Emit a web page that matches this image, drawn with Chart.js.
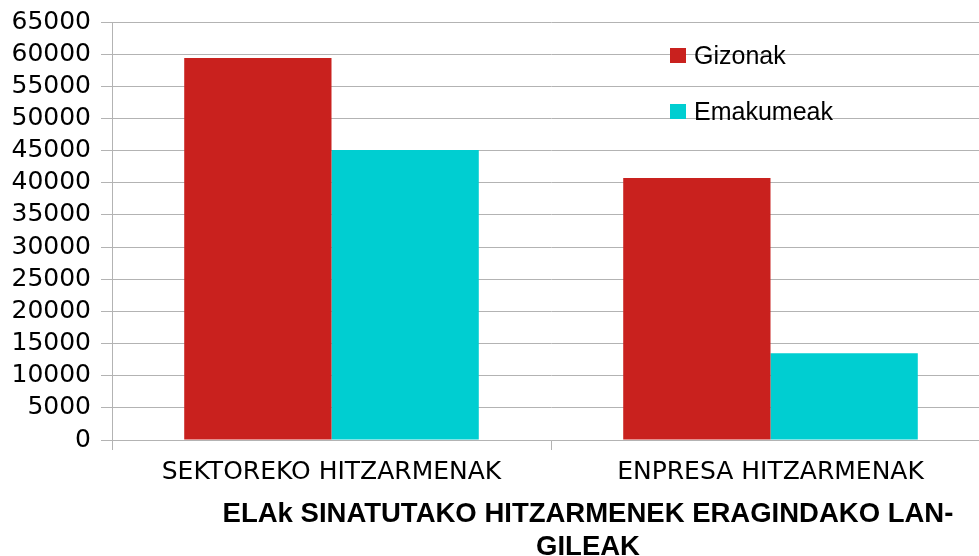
<!DOCTYPE html>
<html>
<head>
<meta charset="utf-8">
<script src="https://cdn.jsdelivr.net/npm/chart.js@4"></script>
<style>
  html, body { margin: 0; padding: 0; background: #fff; overflow: hidden; }
  #wrap { position: relative; width: 990px; height: 556px; }
</style>
</head>
<body>
<div id="wrap"><canvas id="chart"></canvas></div>
<script>
// Data
const categories = ['SEKTOREKO HITZARMENAK', 'ENPRESA HITZARMENAK'];
const gizonak = [59400, 40750];
const emakumeak = [45100, 13500];
const titleLines = ['ELAk SINATUTAKO HITZARMENEK ERAGINDAKO LAN-', 'GILEAK'];

const GRID = '#b3b3b3';

// Legend drawn inside the plot, top right, one item per row
const insideLegend = {
  id: 'insideLegend',
  afterDraw(chart) {
    const ctx = chart.ctx;
    ctx.save();
    ctx.font = '25px "Liberation Sans", Arial, sans-serif';
    ctx.textBaseline = 'alphabetic';
    chart.data.datasets.forEach((ds, i) => {
      const y = 48 + i * 56;
      ctx.fillStyle = ds.backgroundColor;
      ctx.fillRect(670, y, 16, 15);
      ctx.fillStyle = '#000';
      ctx.fillText(ds.label, 694, y + 16);
    });
    ctx.restore();
  }
};

// Two-line bold caption under the axis labels
const bottomTitle = {
  id: 'bottomTitle',
  afterDraw(chart) {
    const ctx = chart.ctx;
    ctx.save();
    ctx.font = 'bold 27.5px "Liberation Sans", Arial, sans-serif';
    ctx.fillStyle = '#000';
    ctx.textAlign = 'center';
    ctx.textBaseline = 'alphabetic';
    titleLines.forEach((line, i) => {
      ctx.fillText(line, 588, 522 + i * 33);
    });
    ctx.restore();
  }
};

new Chart(document.getElementById('chart'), {
  type: 'bar',
  data: {
    labels: categories,
    datasets: [
      { label: 'Gizonak', data: gizonak, backgroundColor: '#c9211e' },
      { label: 'Emakumeak', data: emakumeak, backgroundColor: '#00ced1' },
    ],
  },
  options: {
    responsive: true,
    maintainAspectRatio: false,
    animation: false,
    categoryPercentage: 0.671,
    barPercentage: 1.0,
    layout: { padding: { top: 22, left: 0, right: 0, bottom: 0 } },
    plugins: {
      legend: { display: false },
      title: { display: false },
      tooltip: { enabled: false },
    },
    scales: {
      x: {
        offset: true,
        grid: {
          offset: true,
          drawOnChartArea: false,
          drawTicks: true,
          tickLength: 10,
          color: GRID,
        },
        border: { display: true, color: GRID },
        ticks: {
          color: '#000',
          padding: 7,
          maxRotation: 0,
          font: { family: '"DejaVu Sans", sans-serif', size: 25 },
        },
        afterFit(scale) {
          scale.height = 116;
          scale.paddingLeft = 0;
          scale.paddingRight = 0;
        },
      },
      y: {
        min: 0,
        max: 65000,
        ticks: {
          stepSize: 5000,
          autoSkip: false,
          color: '#000',
          padding: 10,
          font: { family: '"DejaVu Sans", sans-serif', size: 25 },
          callback: (v) => String(v),
        },
        grid: { color: GRID, tickLength: 11 },
        border: { display: true, color: GRID },
        afterFit(scale) {
          scale.width = 112;
          scale.paddingTop = 0;
          scale.paddingBottom = 0;
        },
      },
    },
  },
  plugins: [insideLegend, bottomTitle],
});
</script>
</body>
</html>
